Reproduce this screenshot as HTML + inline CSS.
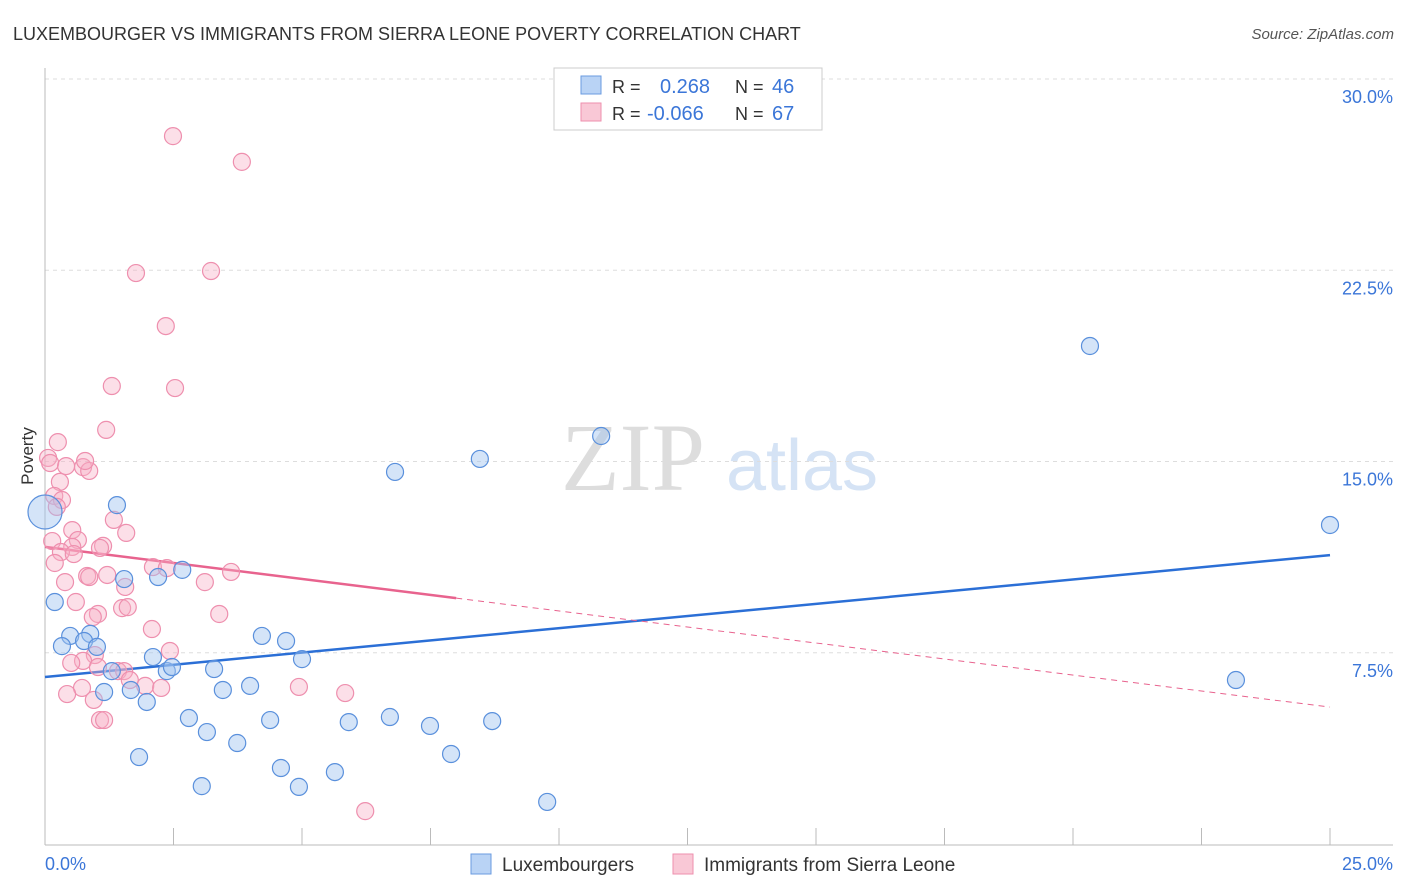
<!DOCTYPE html>
<html><head><meta charset="utf-8"><style>
body{margin:0;background:#fff;font-family:"Liberation Sans",sans-serif}
svg{display:block}
</style></head><body>
<svg id="chart" width="1406" height="892" viewBox="0 0 1406 892">
<text x="13" y="40" font-size="18" fill="#333">LUXEMBOURGER VS IMMIGRANTS FROM SIERRA LEONE POVERTY CORRELATION CHART</text>
<text x="1394" y="39" font-size="15" fill="#555" font-style="italic" text-anchor="end">Source: ZipAtlas.com</text>
<g>
<text x="633" y="490" font-size="96" fill="#ddd" font-family="Liberation Serif,serif" text-anchor="middle">ZIP</text>
<text x="802" y="490" font-size="72" fill="#d5e3f5" text-anchor="middle">atlas</text>
</g>
<g id="grid"></g>
<line x1="45" y1="68" x2="45" y2="845" stroke="#bbb"/>
<line x1="45" y1="845" x2="1393" y2="845" stroke="#bbb"/>
<g id="xticks"></g>
<g id="trend"></g>
<g id="points"></g>
<text transform="translate(33,456) rotate(-90)" font-size="17" fill="#333" text-anchor="middle">Poverty</text>
<text x="45" y="870" font-size="18" fill="#3b76d8">0.0%</text>
<text x="1393" y="870" font-size="18" fill="#3b76d8" text-anchor="end">25.0%</text>
<g>
<rect x="554" y="68" width="268" height="62" fill="#fff" stroke="#ccc"/>
<rect x="581" y="76" width="20" height="18" fill="#b9d3f5" stroke="#6a9be0"/>
<rect x="581" y="103" width="20" height="18" fill="#f9c8d6" stroke="#ee8fae"/>
<text x="612" y="93" font-size="18" fill="#333">R =</text>
<text x="660" y="93" font-size="20" fill="#3b76d8">0.268</text>
<text x="735" y="93" font-size="18" fill="#333">N =</text>
<text x="772" y="93" font-size="20" fill="#3b76d8">46</text>
<text x="612" y="120" font-size="18" fill="#333">R =</text>
<text x="647" y="120" font-size="20" fill="#3b76d8">-0.066</text>
<text x="735" y="120" font-size="18" fill="#333">N =</text>
<text x="772" y="120" font-size="20" fill="#3b76d8">67</text>
</g>
<g>
<rect x="471" y="854" width="20" height="20" fill="#b9d3f5" stroke="#6a9be0"/>
<text x="502" y="871" font-size="19" fill="#333">Luxembourgers</text>
<rect x="673" y="854" width="20" height="20" fill="#f9c8d6" stroke="#ee8fae"/>
<text x="704" y="871" font-size="19" fill="#333">Immigrants from Sierra Leone</text>
</g>
</svg>
<script>
const yTicks=[7.5,15,22.5,30];
const yTickLabels=["7.5%","15.0%","22.5%","30.0%"];
const xTicks=[0,2.5,5,7.5,10,12.5,15,17.5,20,22.5,25];
const blueX=[20.33,10.82,8.46,6.81,25.0,1.40,1.54,2.20,2.67,0.19,0.49,0.88,0.76,0.33,1.01,2.10,2.37,2.47,1.30,3.29,4.22,4.69,5.00,1.15,1.67,1.98,3.46,3.99,2.80,3.15,4.38,5.91,6.71,7.49,8.70,3.74,1.83,3.05,4.59,4.94,5.64,7.90,9.77,23.17];
const blueY=[19.53,16.0,15.10,14.59,12.51,13.29,10.39,10.47,10.75,9.49,8.16,8.24,7.96,7.76,7.73,7.33,6.78,6.94,6.78,6.86,8.16,7.96,7.25,5.96,6.04,5.57,6.04,6.20,4.94,4.39,4.86,4.78,4.98,4.63,4.82,3.96,3.41,2.27,2.98,2.24,2.82,3.53,1.65,6.43];
const bigX=[0];
const bigY=[13.02];
const pinkX=[2.49,3.83,1.77,3.23,2.35,1.30,2.53,1.19,0.25,0.06,0.10,0.41,0.74,0.86,0.78,0.29,0.18,0.33,0.23,1.34,1.58,0.53,0.14,0.64,0.53,1.13,1.07,0.31,0.56,0.19,2.10,2.37,3.62,0.39,3.11,0.82,1.21,1.56,0.60,1.50,1.61,1.03,0.93,3.39,2.08,2.43,0.97,0.74,0.51,1.42,1.03,1.54,1.65,1.95,2.26,4.94,5.84,0.72,0.43,0.95,1.07,1.15,6.23,0.86];
const pinkY=[27.76,26.75,22.39,22.47,20.31,17.96,17.88,16.24,15.76,15.14,14.94,14.82,14.78,14.63,15.02,14.20,13.65,13.49,13.22,12.71,12.20,12.31,11.88,11.92,11.65,11.69,11.61,11.45,11.37,11.02,10.86,10.82,10.67,10.27,10.27,10.51,10.55,10.08,9.49,9.25,9.29,9.02,8.90,9.02,8.43,7.57,7.41,7.18,7.10,6.78,6.94,6.78,6.43,6.20,6.12,6.16,5.92,6.12,5.88,5.65,4.86,4.86,1.29,10.47];
const blueTrend=[6.55,11.33];
const pinkTrend=[11.65,5.37];
const pinkSolidEnd=8.0;

const X=v=>45+v/25*1285;
const Y=v=>844-v*25.5;
const NS="http://www.w3.org/2000/svg";
function mk(tag,attrs,parent){const e=document.createElementNS(NS,tag);for(const k in attrs)e.setAttribute(k,attrs[k]);parent.appendChild(e);return e;}
const grid=document.getElementById('grid');
yTicks.forEach((t,i)=>{
 const l=mk('line',{x1:45,x2:1393,y1:Y(t),y2:Y(t),stroke:'#ddd','stroke-dasharray':'4,4'},grid);
 
 
 const tx=mk('text',{x:1393,y:Y(t)+24,'font-size':18,fill:'#3b76d8','text-anchor':'end'},grid);
 tx.textContent=yTickLabels[i];
 
 
});
const xt=document.getElementById('xticks');
xTicks.forEach(t=>{
 const l=mk('line',{x1:X(t),x2:X(t),y1:828,y2:845,stroke:'#bbb'},xt);
 
 
});
const tr=document.getElementById('trend');
const bl=mk('line',{x1:X(0),y1:Y(blueTrend[0]),x2:X(25),y2:Y(blueTrend[1]),stroke:'#2b6fd6','stroke-width':2.5},tr);


const pAt=x=>pinkTrend[0]+(pinkTrend[1]-pinkTrend[0])*x/25;
const ps=mk('line',{x1:X(0),y1:Y(pAt(0)),x2:X(pinkSolidEnd),y2:Y(pAt(pinkSolidEnd)),stroke:'#e8638e','stroke-width':2.5},tr);


const pd=mk('line',{x1:X(pinkSolidEnd),y1:Y(pAt(pinkSolidEnd)),x2:X(25),y2:Y(pAt(25)),stroke:'#e8638e','stroke-width':1,'stroke-dasharray':'6,5'},tr);


const pts=document.getElementById('points');
pinkX.forEach((x,i)=>{
 const c=mk('circle',{cx:X(x),cy:Y(pinkY[i]),r:8.5,fill:'rgba(248,176,198,0.4)',stroke:'#ee8fae','stroke-width':1.2},pts);
 
 
});
blueX.forEach((x,i)=>{
 const c=mk('circle',{cx:X(x),cy:Y(blueY[i]),r:8.5,fill:'rgba(160,196,240,0.45)',stroke:'#5a90dc','stroke-width':1.2},pts);
 
 
});
bigX.forEach((x,i)=>{
 const c=mk('circle',{cx:X(x),cy:Y(bigY[i]),r:17,fill:'rgba(160,196,240,0.45)',stroke:'#5a90dc','stroke-width':1.2},pts);
 
 
});
</script>
</body></html>
